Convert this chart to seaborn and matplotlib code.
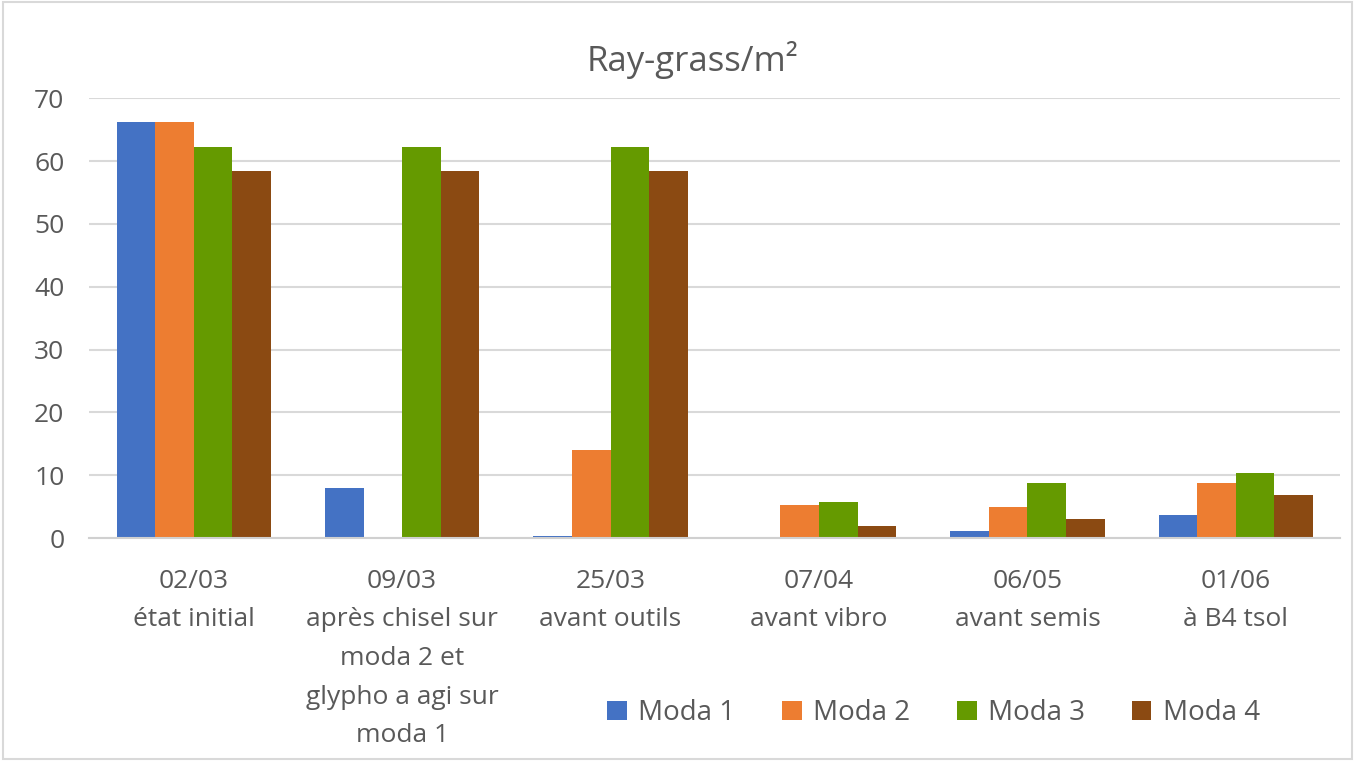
import matplotlib
matplotlib.use("Agg")
import matplotlib.pyplot as plt
import seaborn as sns
import pandas as pd
from matplotlib.patches import Rectangle

categories = ["02/03\nétat initial",
              "09/03\naprès chisel sur\nmoda 2 et\nglypho a agi sur\nmoda 1",
              "25/03\navant outils",
              "07/04\navant vibro",
              "06/05\navant semis",
              "01/06\nà B4 tsol"]
series = ["Moda 1", "Moda 2", "Moda 3", "Moda 4"]
moda1 = [66.2, 8.0, 0.3, 0.0, 1.1, 3.6]
moda2 = [66.2, 0.0, 14.0, 5.3, 4.9, 8.7]
moda3 = [62.2, 62.2, 62.2, 5.7, 8.7, 10.3]
moda4 = [58.4, 58.4, 58.4, 1.9, 3.1, 6.9]
colors = ["#4472C4", "#ED7D31", "#659A00", "#8B4A12"]

rows = []
for s, vals in zip(series, [moda1, moda2, moda3, moda4]):
    for c, v in zip(categories, vals):
        rows.append({"cat": c, "serie": s, "val": v})
df = pd.DataFrame(rows)

sns.set_theme(style="white")
plt.rcParams['font.family'] = ['Open Sans', 'DejaVu Sans']
txt = "#595959"

fig = plt.figure(figsize=(13.55, 7.61), dpi=100)
ax = fig.add_axes([0.066, 0.293, 0.923, 0.578])
sns.barplot(data=df, x="cat", y="val", hue="serie", palette=colors,
            width=0.74, ax=ax, saturation=1, legend=True, linewidth=0)

ax.set_ylim(0, 70)
ax.set_yticks(range(0, 71, 10))
ax.yaxis.grid(True, color="#d9d9d9", linewidth=1.5)
ax.set_axisbelow(True)
for sp in ["top", "right", "left"]:
    ax.spines[sp].set_visible(False)
ax.spines["bottom"].set_color("#d0d0d0")
ax.spines["bottom"].set_linewidth(1.5)
ax.set_xlabel("")
ax.set_ylabel("")
ax.tick_params(axis="both", length=0, colors=txt)
ax.tick_params(axis="x", pad=22, labelsize=19)
ax.tick_params(axis="y", pad=18, labelsize=19)
for lab in ax.get_xticklabels():
    lab.set_linespacing(1.72)
    lab.set_verticalalignment("top")

leg = ax.legend(loc="center", bbox_to_anchor=(0.689, 0.063),
                bbox_transform=fig.transFigure, ncol=4, frameon=False,
                fontsize=20, handlelength=0.7, handleheight=0.7,
                columnspacing=1.7, handletextpad=0.4)
for t in leg.get_texts():
    t.set_color(txt)

fig.text(0.511, 0.921, "Ray-grass/m²", ha="center", va="center",
         fontsize=25, color=txt)
fig.patches.append(Rectangle((0.002, 0.002), 0.996, 0.996, transform=fig.transFigure,
                             fill=False, edgecolor="#d9d9d9", linewidth=1.5))
fig.savefig("out.png", dpi=100)
